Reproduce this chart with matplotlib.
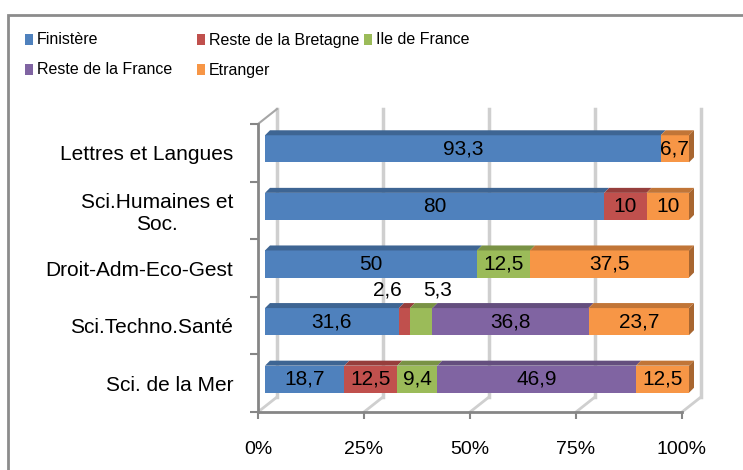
import numpy as np
import matplotlib
matplotlib.use("Agg")
import matplotlib.pyplot as plt
from matplotlib.patches import Polygon, Rectangle
from matplotlib.transforms import offset_copy

plt.rcParams['font.family'] = ['Liberation Sans', 'DejaVu Sans']

# data (bottom to top)
filieres = ["Sci. de la Mer", "Sci.Techno.Santé", "Droit-Adm-Eco-Gest",
            "Sci.Humaines et\nSoc.", "Lettres et Langues"]
series = ["Finistère", "Reste de la Bretagne", "Ile de France",
          "Reste de la France", "Etranger"]
finistere = [18.7, 31.6, 50, 80, 93.3]
reste_bretagne = [12.5, 2.6, 0, 10, 0]
ile_de_france = [9.4, 5.3, 12.5, 0, 0]
reste_france = [46.9, 36.8, 0, 0, 0]
etranger = [12.5, 23.7, 37.5, 10, 6.7]
ticks = [0, 25, 50, 75, 100]
tick_labels = ["0%", "25%", "50%", "75%", "100%"]

colors = ["#4F81BD", "#C0504D", "#9BBB59", "#8064A2", "#F79646"]

def shade(c, f):
    r, g, b = matplotlib.colors.to_rgb(c)
    return (r * f, g * f, b * f)

W, H = 743, 470
fig = plt.figure(figsize=(W / 100, H / 100), dpi=100)

# outer frame of the chart area
fig.patches.append(Rectangle((8 / W, -0.2), 2, (H - 15) / H + 0.2, transform=fig.transFigure,
                             fill=False, edgecolor="#8c8c8c", lw=2))

x0, x1, ytop, ybot = 258, 682, 124, 412
ax = fig.add_axes([x0 / W, (H - ybot) / H, (x1 - x0) / W, (ybot - ytop) / H])
ax.set_xlim(0, 100)
ax.set_ylim(-0.5, 4.5)
xs = (x1 - x0) / 100.0          # px per x unit
ys = (ybot - ytop) / 5.0        # px per y unit

# back wall / floor
odx, ody = 19 / xs, 15 / ys
for t in ticks:
    ax.plot([t + odx, t + odx], [-0.5 + ody, 4.5 + ody], color="#cfcfcf", lw=2.5,
            clip_on=False, zorder=1)
    ax.plot([t, t + odx], [-0.5, -0.5 + ody], color="#cfcfcf", lw=2, clip_on=False, zorder=1)
ax.plot([0, odx], [4.5, 4.5 + ody], color="#a6a6a6", lw=1.5, clip_on=False, zorder=1)

# bars at mid depth
trans_bar = offset_copy(ax.transData, fig=fig, x=7, y=4, units='dots')
ddx, ddy = 5 / xs, 5 / ys
h = 0.47
y = np.arange(len(filieres))
data = [finistere, reste_bretagne, ile_de_france, reste_france, etranger]
left = np.zeros(len(filieres))
for k, vals in enumerate(data):
    vals = np.array(vals, dtype=float)
    ax.barh(y, vals, left=left, height=h, color=colors[k], transform=trans_bar,
            zorder=3, linewidth=0, clip_on=False)
    for i in range(len(y)):
        if vals[i] <= 0:
            continue
        l, w, yt = left[i], vals[i], y[i] + h / 2
        ax.add_patch(Polygon([(l, yt), (l + w, yt), (l + w + ddx, yt + ddy), (l + ddx, yt + ddy)],
                             closed=True, facecolor=shade(colors[k], 0.78), lw=0,
                             transform=trans_bar, zorder=3, clip_on=False))
    left = left + vals

# right side faces
for i in range(len(y)):
    R, yb, yt = left[i], y[i] - h / 2, y[i] + h / 2
    last = max(k for k in range(len(data)) if data[k][i] > 0)
    ax.add_patch(Polygon([(R, yb), (R, yt), (R + ddx, yt + ddy), (R + ddx, yb + ddy)],
                         closed=True, facecolor=shade(colors[last], 0.68), lw=0,
                         transform=trans_bar, zorder=3, clip_on=False))

# data labels
left = np.zeros(len(filieres))
for k, vals in enumerate(data):
    for i in range(len(y)):
        v = vals[i]
        if v > 0:
            lab = ("%g" % v).replace(".", ",")
            cx = left[i] + v / 2
            if v < 4:
                ax.annotate(lab, (cx, y[i] + h / 2), xycoords=trans_bar,
                            xytext=(-12, 13), textcoords="offset points",
                            ha="center", va="center", fontsize=15, zorder=5)
            elif v < 6:
                ax.annotate(lab, (cx, y[i] + h / 2), xycoords=trans_bar,
                            xytext=(12, 13), textcoords="offset points",
                            ha="center", va="center", fontsize=15, zorder=5)
            else:
                ax.text(cx, y[i], lab, transform=trans_bar, ha="center", va="center",
                        fontsize=15, zorder=5)
    left = left + np.array(vals, dtype=float)

# axes styling
for s in ["top", "right"]:
    ax.spines[s].set_visible(False)
for s in ["left", "bottom"]:
    ax.spines[s].set_color("#868686")
    ax.spines[s].set_linewidth(2)
ax.set_xticks(ticks)
ax.set_xticklabels(tick_labels, fontsize=14)
ax.tick_params(axis="x", length=5, width=1.5, color="#868686", pad=16)
ax.set_yticks(np.arange(-0.5, len(filieres), 1.0))
ax.set_yticklabels([])
ax.tick_params(axis="y", which="major", length=6, width=1.5, color="#868686")
ax.set_yticks(y, minor=True)
ax.set_yticklabels(filieres, minor=True, fontsize=15, multialignment="center")
ax.tick_params(axis="y", which="minor", length=0, pad=18)
ax.set_facecolor("none")

# legend
col_x = [25, 197, 364]
row_y = [40, 70]
for k, name in enumerate(series):
    cx, ry = col_x[k % 3], row_y[k // 3]
    fig.patches.append(Rectangle((cx / W, (H - ry - 5) / H), 8 / W, 11 / H,
                                 transform=fig.transFigure, facecolor=colors[k], lw=0))
    fig.text((cx + 12) / W, (H - ry) / H, name, fontsize=11.5, va="center", ha="left")

fig.savefig("out.png", dpi=100)
